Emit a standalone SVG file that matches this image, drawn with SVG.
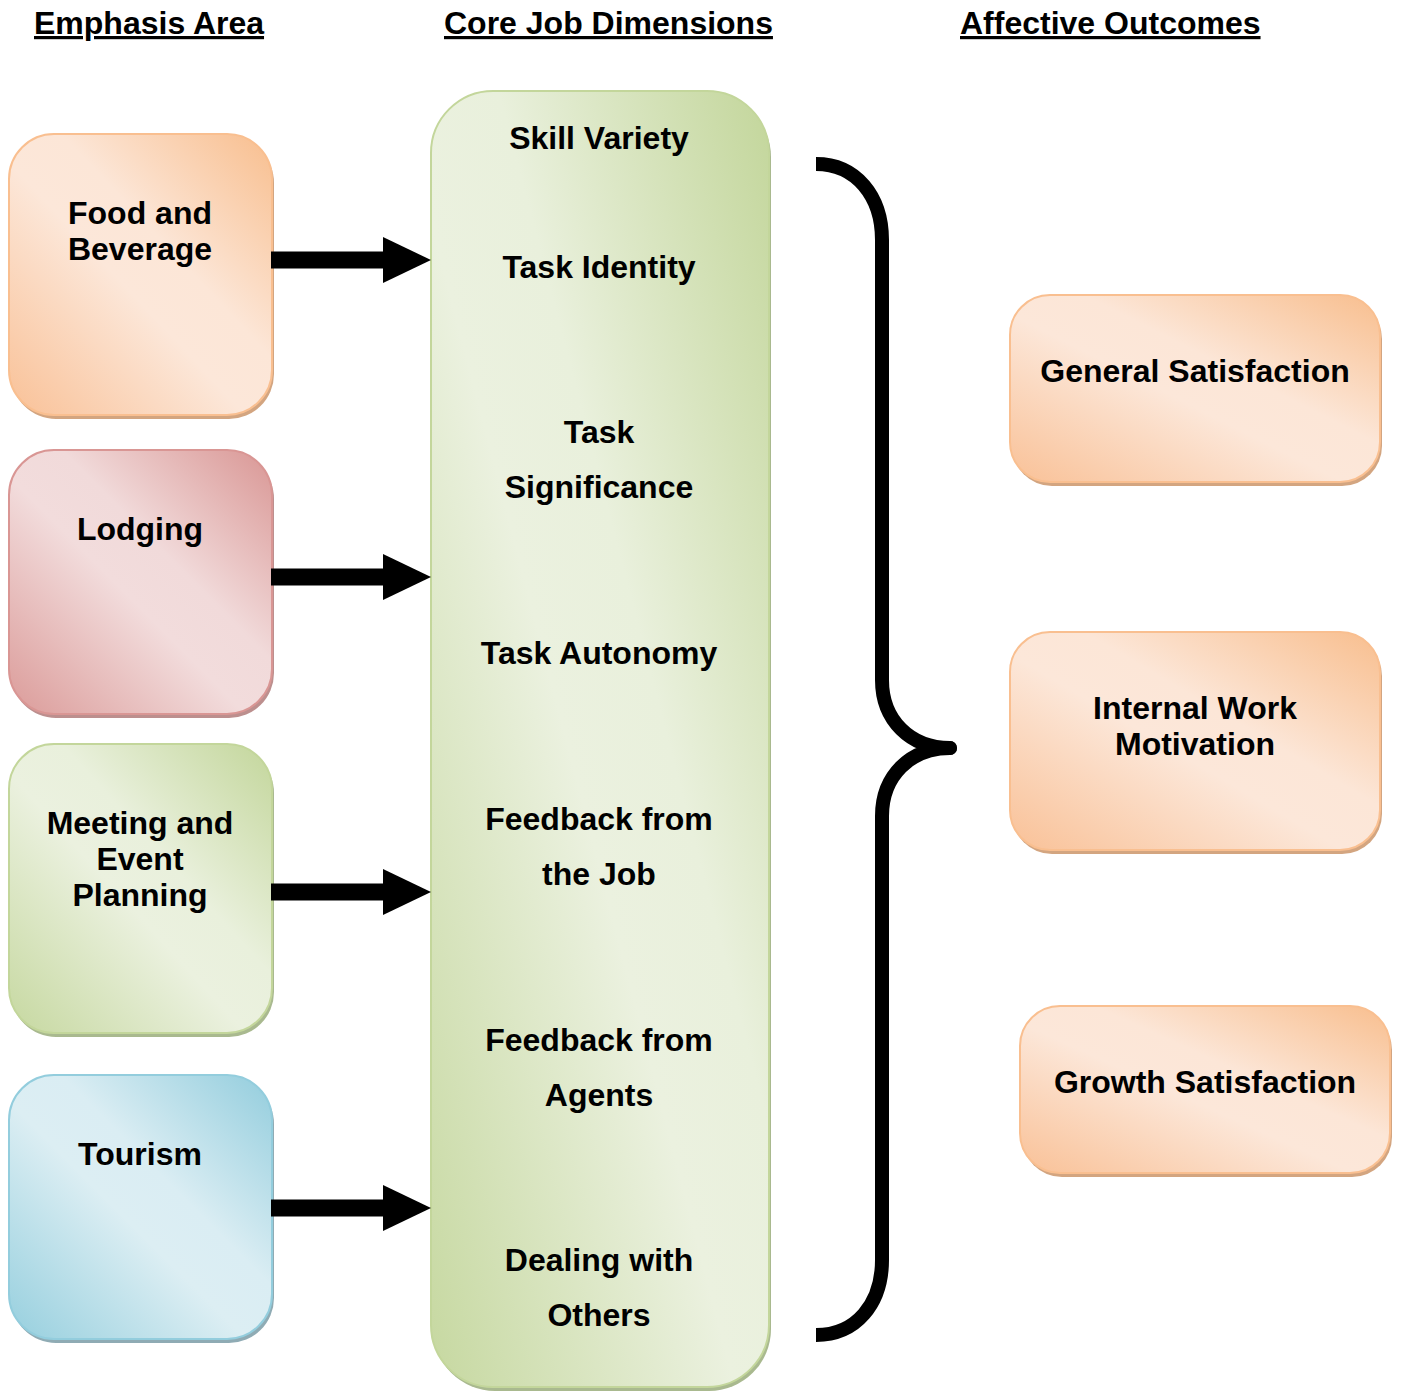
<svg xmlns="http://www.w3.org/2000/svg" width="1403" height="1391" viewBox="0 0 1403 1391">
  <defs>
    <linearGradient id="gOrange" x1="0" y1="1" x2="1" y2="0">
      <stop offset="0" stop-color="#F9C197"/>
      <stop offset="0.45" stop-color="#FCE7D9"/>
      <stop offset="0.6" stop-color="#FCE6D7"/>
      <stop offset="1" stop-color="#F8BE8E"/>
    </linearGradient>
    <linearGradient id="gRed" x1="0" y1="1" x2="1" y2="0">
      <stop offset="0" stop-color="#DB9B99"/>
      <stop offset="0.45" stop-color="#F2DCDC"/>
      <stop offset="0.6" stop-color="#F1DADA"/>
      <stop offset="1" stop-color="#D99694"/>
    </linearGradient>
    <linearGradient id="gGreen" x1="0" y1="1" x2="1" y2="0">
      <stop offset="0" stop-color="#C6D8A0"/>
      <stop offset="0.45" stop-color="#EBF1DF"/>
      <stop offset="0.6" stop-color="#E9F0DC"/>
      <stop offset="1" stop-color="#C3D69B"/>
    </linearGradient>
    <linearGradient id="gBlue" x1="0" y1="1" x2="1" y2="0">
      <stop offset="0" stop-color="#96CFDE"/>
      <stop offset="0.45" stop-color="#DCEEF3"/>
      <stop offset="0.6" stop-color="#DAEDF3"/>
      <stop offset="1" stop-color="#93CDDD"/>
    </linearGradient>
    <marker id="arrowHead" viewBox="0 0 48 46" refX="1" refY="23" markerUnits="userSpaceOnUse" markerWidth="48" markerHeight="46" orient="auto">
      <path d="M0,0 L48,23 L0,46 Z" fill="#000"/>
    </marker>
  </defs>
  <style>
    text { font-family: "Liberation Sans", Arial, sans-serif; font-weight: bold; font-size: 32px; fill: #000; text-anchor: middle; }
    .hdr { text-decoration: underline; text-anchor: start; }
    .orange { fill: url(#gOrange); stroke: #F9BF90; stroke-width: 2; }
    .red { fill: url(#gRed); stroke: #D99694; stroke-width: 2; }
    .green { fill: url(#gGreen); stroke: #C3D69B; stroke-width: 2; }
    .blue { fill: url(#gBlue); stroke: #93CDDD; stroke-width: 2; }
    .sh-orange { fill: #D3A580; }
    .sh-red { fill: #BC8F8E; }
    .sh-green { fill: #A9B98F; }
    .sh-blue { fill: #8FABB4; }
    .conn { stroke: #000; stroke-width: 17; fill: none; }
    .brace { stroke: #000; stroke-width: 14; fill: none; stroke-linecap: butt; stroke-linejoin: round; }
  </style>
  <rect width="1403" height="1391" fill="#FFFFFF"/>

  <g id="headers">
    <text class="hdr" x="34" y="34">Emphasis Area</text>
    <text class="hdr" x="444" y="34">Core Job Dimensions</text>
    <text class="hdr" x="960" y="34">Affective Outcomes</text>
  </g>

  <g id="food-beverage">
    <rect class="sh-orange" x="11" y="138" width="263" height="281" rx="45"/>
    <rect class="orange" x="9" y="134" width="263" height="281" rx="45"/>
    <text x="140" y="224">Food and</text>
    <text x="140" y="260">Beverage</text>
  </g>

  <g id="lodging">
    <rect class="sh-red" x="11" y="454" width="263" height="264" rx="45"/>
    <rect class="red" x="9" y="450" width="263" height="264" rx="45"/>
    <text x="140" y="540">Lodging</text>
  </g>

  <g id="meeting-event">
    <rect class="sh-green" x="11" y="748" width="263" height="289" rx="45"/>
    <rect class="green" x="9" y="744" width="263" height="289" rx="45"/>
    <text x="140" y="834">Meeting and</text>
    <text x="140" y="870">Event</text>
    <text x="140" y="906">Planning</text>
  </g>

  <g id="tourism">
    <rect class="sh-blue" x="11" y="1079" width="263" height="264" rx="45"/>
    <rect class="blue" x="9" y="1075" width="263" height="264" rx="45"/>
    <text x="140" y="1165">Tourism</text>
  </g>

  <g id="core-job-dimensions">
    <rect class="sh-green" x="433" y="95" width="338" height="1296" rx="62"/>
    <rect class="green" x="431" y="91" width="338" height="1296" rx="62"/>
    <text x="599" y="149">Skill Variety</text>
    <text x="599" y="278">Task Identity</text>
    <text x="599" y="443">Task</text>
    <text x="599" y="498">Significance</text>
    <text x="599" y="664">Task Autonomy</text>
    <text x="599" y="830">Feedback from</text>
    <text x="599" y="885">the Job</text>
    <text x="599" y="1051">Feedback from</text>
    <text x="599" y="1106">Agents</text>
    <text x="599" y="1271">Dealing with</text>
    <text x="599" y="1326">Others</text>
  </g>

  <g id="general-satisfaction">
    <rect class="sh-orange" x="1012" y="299" width="370" height="187" rx="40"/>
    <rect class="orange" x="1010" y="295" width="370" height="187" rx="40"/>
    <text x="1195" y="382">General Satisfaction</text>
  </g>

  <g id="internal-work-motivation">
    <rect class="sh-orange" x="1012" y="636" width="370" height="218" rx="40"/>
    <rect class="orange" x="1010" y="632" width="370" height="218" rx="40"/>
    <text x="1195" y="719">Internal Work</text>
    <text x="1195" y="755">Motivation</text>
  </g>

  <g id="growth-satisfaction">
    <rect class="sh-orange" x="1022" y="1010" width="370" height="167" rx="40"/>
    <rect class="orange" x="1020" y="1006" width="370" height="167" rx="40"/>
    <text x="1205" y="1093">Growth Satisfaction</text>
  </g>

  <g id="connectors">
    <line class="conn" x1="271" y1="260" x2="384" y2="260" marker-end="url(#arrowHead)"/>
    <line class="conn" x1="271" y1="577" x2="384" y2="577" marker-end="url(#arrowHead)"/>
    <line class="conn" x1="271" y1="892" x2="384" y2="892" marker-end="url(#arrowHead)"/>
    <line class="conn" x1="271" y1="1208" x2="384" y2="1208" marker-end="url(#arrowHead)"/>
    <path class="brace" d="M816,164 C856,164 882,196 882,240 L882,680 C882,720 910,748 950,748 C910,748 882,776 882,816 L882,1260 C882,1304 856,1335 816,1335"/>
    <circle cx="950" cy="748" r="7" fill="#000"/>
  </g>
</svg>
